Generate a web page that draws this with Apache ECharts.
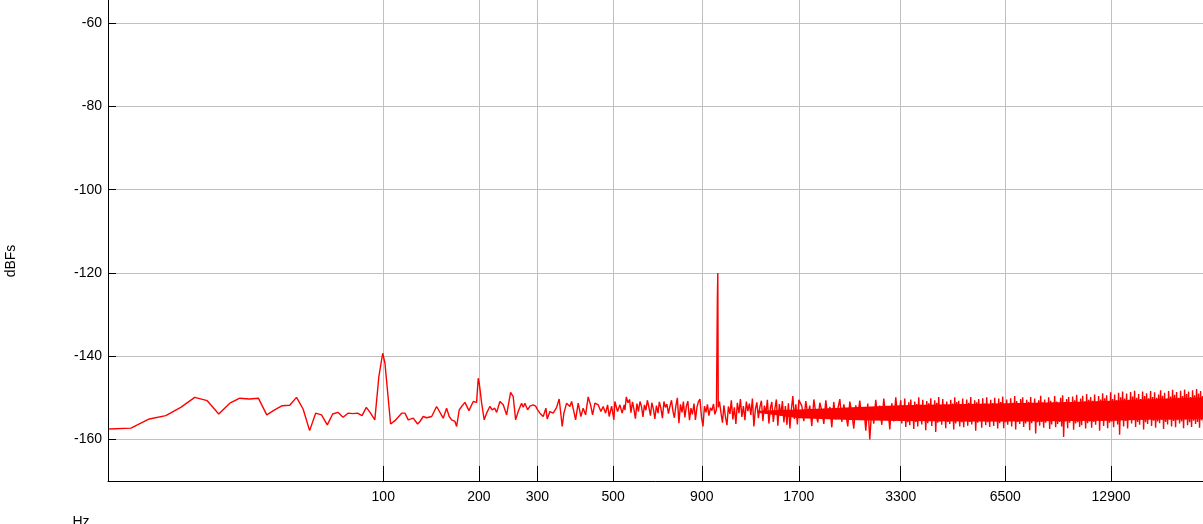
<!DOCTYPE html>
<html><head><meta charset="utf-8">
<script src="https://cdn.jsdelivr.net/npm/echarts@6/dist/echarts.min.js"></script>
<style>html,body{margin:0;padding:0;background:#fff;overflow:hidden}#chart{width:1203px;height:524px}</style>
</head><body><div id="chart"></div>
<script>
// ---- axis ticks ----
const xTickHz = [100, 200, 300, 500, 900, 1700, 3300, 6500, 12900];
const yTickDb = [-160, -140, -120, -100, -80, -60];
const xRangeHz = [2.75, 24000];
const yRangeDb = [-170, -40];

// ---- spectrum: low-frequency part (Hz, dBFS) ----
const lowHz = [2.9,5.9,8.8,11.7,14.6,17.6,20.5,23.4,26.4,29.3,32.2,35.2,38.1,41.0,43.9,46.9,49.8,52.7,55.7,58.6,61.5,64.5,67.4,70.3,73.2,76.2,79.1,82.0,85.0,87.9,90.8,93.8,96.7,99.6,101.3,105.7,109.2,114.8,117.6,120.5,125.0,129.1,131.3,134.5,137.9,143.0,148.2,155.4,159.2,162.2,165.0,169.0,171.0,174.2,177.2,181.4,186.6,192.3,196.9,199.2,200.6,204.0,207.7,211.2,216.1,219.6,223.5,226.5,231.7,237.1,242.7,249.5,254.0,258.3,262.9,269.1,272.2,275.3,280.5,284.9,291.4,296.3,300.3,305.1,312.0,317.8,320.6,326.6,334.0,341.8,347.8,355.0,359.1,365.7,373.9,378.3,385.0,388.6,395.5,402.7,409.0,415.7,423.0,429.9,435.7,442.5,452.4,460.7,467.8,475.4,481.8,487.0,494.9,502.5,505.9,515.1,523.0,531.1,538.3];
const lowDb = [-157.5,-157.3,-155.1,-154.3,-152.3,-149.9,-150.7,-153.9,-151.3,-150.1,-150.3,-150.1,-154.1,-152.9,-151.9,-151.8,-149.9,-152.7,-157.9,-153.7,-154.1,-156.5,-153.9,-153.5,-154.7,-153.7,-153.8,-153.7,-154.3,-152.3,-153.7,-155.3,-145.0,-139.3,-141.7,-156.3,-155.5,-153.7,-153.7,-155.3,-154.9,-156.3,-155.7,-154.5,-154.8,-154.5,-152.1,-154.9,-152.5,-154.5,-155.3,-155.7,-156.9,-152.9,-152.1,-151.1,-153.1,-150.9,-151.1,-145.3,-146.5,-151.3,-155.3,-153.7,-152.1,-152.9,-152.5,-153.5,-150.9,-151.7,-154.1,-148.7,-149.7,-155.3,-153.3,-151.3,-152.3,-151.3,-152.9,-152.0,-151.7,-152.0,-152.9,-153.7,-154.5,-152.5,-155.1,-153.3,-153.7,-152.3,-150.3,-156.9,-153.7,-151.3,-152.1,-150.9,-153.7,-155.3,-151.3,-154.5,-152.5,-154.1,-149.8,-151.7,-154.1,-151.3,-151.7,-153.3,-152.1,-153.7,-151.7,-154.5,-152.0,-155.3,-150.9,-153.3,-151.7,-153.7,-151.7];

// ---- mid part incl. the 1 kHz tone ----
const midHz = [541,546,552,558,563,569,574,580,586,592,598,604,610,616,622,628,635,641,647,654,660,667,674,680,687,694,701,708,715,722,729,737,744,751,759,766,774,782,790,797,805,813,821,830,838,846,855,863,872,880,889,898,907,916,925,934,943,953,962,972,981,991,997,1000,1003,1011,1021,1031,1041,1051,1062,1072,1083,1093,1104,1115,1126,1137,1149,1160,1171,1183,1195,1206,1218,1230,1242,1255,1267,1280,1292,1305,1318,1331,1344,1357,1371,1384,1398,1412,1425,1439,1454,1468,1482,1497,1512,1527,1542,1557,1573,1588,1604,1619,1635,1651,1667,1684,1700];
const midDb = [-153.0,-149.8,-151.2,-150.4,-153.6,-151.0,-152.6,-155.0,-151.4,-153.3,
-150.9,-152.1,-154.6,-151.7,-153.0,-150.6,-152.4,-154.3,-151.2,-152.8,
-155.1,-151.9,-153.7,-151.0,-152.5,-154.9,-150.9,-152.3,-151.5,-153.8,
-152.1,-150.6,-153.2,-154.8,-151.8,-150.0,-156.1,-151.6,-153.5,-150.9,
-154.7,-152.0,-150.8,-155.4,-152.5,-154.0,-151.4,-155.3,-152.2,-151.0,
-150.3,-154.6,-156.9,-152.0,-153.5,-151.6,-154.3,-152.4,-153.1,-151.5,
-154.0,-152.8,
-126.5,-120.0,
-152.3,-150.9,-153.6,-156.0,-151.8,-154.5,-156.6,-152.1,-153.9,-150.6,
-155.2,-152.3,-156.3,-151.2,-153.7,-150.3,-154.6,-152.0,-155.4,-150.9,
-153.2,-151.4,-154.1,-150.2,-156.9,-152.7,-151.1,-154.9,-152.2,-150.7,
-155.6,-151.9,-153.8,-150.5,-156.2,-152.4,-151.0,-155.8,-152.6,-150.4,
-156.7,-151.5,-154.3,-150.8,-155.9,-152.0,-156.5,-151.3,-157.4,-152.8,
-149.6,-155.1,-151.6,-156.4,-150.5];

// ---- high part (dense noise) ----
const highHz = [1734,1756,1779,1803,1826,1850,1875,1899,1924,1949,
1975,2001,2027,2054,2081,2108,2135,2163,2192,2221,
2250,2279,2309,2339,2370,2401,2432,2464,2496,2529,
2562,2596,2630,2664,2699,2734,2770,2806,2843,2880,
2918,2956,2995,3034,3074,3114,3155,3196,3238,3280,
3301,3323,3344,3366,3388,3410,3432,3455,3477,3500,3523,3546,3569,3592,3615,3639,3662,3686,3710,3734,
3758,3783,3808,3833,3858,3883,3908,3933,3959,3985,4011,4037,4063,4089,4116,4143,4170,4197,4224,4252,
4279,4307,4335,4363,4391,4420,4449,4478,4507,4537,4566,4596,4626,4656,4686,4716,4747,4778,4809,4840,
4872,4904,4935,4967,4999,5032,5065,5098,5131,5164,5198,5232,5266,5300,5334,5369,5404,5439,5474,5510,
5546,5582,5618,5655,5692,5729,5766,5803,5841,5879,5917,5956,5994,6033,6072,6112,6152,6192,6232,6272,
6313,6354,6395,6437,6479,6521,6563,6606,6649,6692,6735,6779,6823,6868,6912,6957,7002,7048,7094,7140,
7186,7233,7280,7327,7374,7422,7470,7519,7568,7617,7666,7716,7766,7817,7868,7919,7970,8022,8074,8126,
8179,8232,8286,8340,8394,8448,8503,8558,8614,8670,8726,8783,8840,8897,8955,9013,9071,9130,9189,9249,
9309,9370,9431,9492,9553,9615,9678,9741,9804,9868,9932,9996,10061,10126,10192,10258,10325,10392,10459,10527,
10595,10664,10733,10803,10873,10944,11015,11086,11158,11231,11304,11377,11451,11525,11600,11675,11751,11827,11904,11981,
12059,12137,12216,12295,12375,12455,12536,12618,12700,12782,12865,12948,13032,13117,13202,13288,13374,13461,13548,13636,
13725,13814,13903,13993,14084,14176,14268,14360,14453,14547,14642,14737,14832,14928,15025,15123,15221,15320,15419,15519,
15620,15721,15823,15926,16029,16133,16238,16343,16449,16556,16663,16771,16880,16990,17100,17211,17323,17435,17548,17662,
17777,17892,18008,18124,18242,18360,18479,18599,18720,18841,18963,19086,19210,19335,19460,19586,19713,19841,19970,20099,
20230,20361,20493,20626,20760,20894,21030,21166,21303,21441,21580,21720,21861,22003,22146,22289,22434,22579,22726,22873,
23022,23171,23321,23472,23624,23777,23888,24000];
const highDb = [-152.0,-155.6,-150.8,-154.2,-151.9,-156.8,-150.4,-153.7,-155.9,-151.2,
-153.1,-156.3,-150.6,-154.9,-152.2,-157.1,-151.0,-155.2,-152.7,-150.3,
-155.8,-151.6,-154.0,-156.9,-150.9,-153.6,-157.4,-151.8,-154.5,-150.7,
-155.3,-152.3,-157.9,-151.4,-160.0,-152.6,-156.2,-150.5,-155.0,-151.9,
-156.5,-150.2,-154.4,-152.1,-157.6,-151.3,-155.7,-149.9,-154.8,-152.4,
-150.6,-156.2,-151.9,-155.4,-150.2,-157.0,-152.4,-155.9,-151.1,-156.6,
-150.4,-155.2,-152.0,-157.5,-150.9,-155.8,-151.5,-156.9,-149.9,-155.3,
-151.7,-156.4,-150.5,-155.0,-152.1,-157.8,-150.8,-156.1,-151.3,-155.6,
-150.1,-156.8,-151.8,-155.2,-150.6,-158.2,-151.2,-156.0,-149.8,-155.7,
-152.0,-156.5,-150.3,-155.1,-151.6,-157.3,-150.9,-155.8,-152.2,-156.3,
-150.5,-155.4,-151.4,-157.6,-149.9,-156.2,-151.0,-155.5,-150.7,-156.9,
-151.5,-155.9,-150.2,-157.1,-152.0,-155.3,-150.4,-156.7,-151.2,-155.8,
-149.8,-156.4,-151.7,-155.2,-150.6,-157.9,-151.1,-156.0,-150.3,-155.6,
-151.9,-157.2,-150.1,-155.5,-151.4,-156.6,-149.9,-155.9,-152.1,-157.0,
-150.5,-155.3,-151.3,-156.8,-150.0,-155.7,-151.6,-157.4,-150.2,-156.1,
-151.0,-155.6,-149.7,-157.3,-151.5,-155.9,-150.4,-156.5,-151.9,-155.2,
-150.1,-156.9,-151.2,-155.4,-149.6,-157.6,-150.8,-155.8,-151.4,-156.3,
-150.3,-155.5,-149.9,-157.0,-151.6,-156.2,-150.5,-155.7,-151.0,-157.8,
-149.8,-156.1,-151.3,-155.4,-150.2,-158.6,-151.7,-155.9,-150.6,-156.7,
-149.5,-155.8,-151.1,-157.2,-150.4,-156.0,-151.8,-155.5,-149.9,-157.5,
-150.7,-156.4,-151.2,-155.6,-149.6,-157.1,-150.9,-156.3,-151.5,-155.8,
-150.0,-156.9,-149.4,-159.4,-151.0,-155.7,-150.3,-157.3,-149.8,-156.0,
-151.4,-155.5,-149.7,-157.7,-150.6,-156.2,-149.3,-155.9,-151.1,-157.0,
-150.2,-156.6,-149.5,-155.4,-150.9,-157.4,-149.1,-156.1,-150.5,-155.7,
-149.8,-157.2,-150.7,-155.8,-149.2,-156.5,-151.0,-155.3,-149.6,-157.9,
-150.4,-155.6,-148.9,-156.8,-150.1,-155.2,-149.4,-157.3,-150.8,-156.0,
-148.7,-155.7,-150.3,-157.1,-149.2,-155.5,-150.6,-156.4,-148.8,-158.9,
-149.9,-155.3,-148.5,-156.9,-150.2,-155.6,-149.0,-157.4,-150.5,-155.1,
-148.6,-156.2,-149.7,-155.4,-148.3,-157.0,-150.0,-155.8,-149.1,-156.5,
-150.3,-155.2,-148.5,-157.6,-149.6,-155.9,-148.9,-156.3,-150.1,-155.0,
-148.4,-156.8,-149.8,-155.5,-148.7,-157.2,-150.0,-155.7,-149.2,-156.1,
-148.2,-155.3,-149.5,-157.5,-148.8,-155.8,-150.2,-156.4,-148.4,-155.2,
-149.7,-156.9,-148.1,-155.6,-149.3,-157.1,-148.6,-155.4,-150.0,-156.2,
-148.3,-155.7,-149.6,-157.3,-148.0,-155.2,-149.1,-156.6,-148.5,-155.9,
-149.8,-157.0,-148.2,-155.5,-149.4,-156.3,-147.9,-155.8,-149.0,-157.2,
-148.4,-155.4,-149.6,-156.0,-148.1,-155.6,-149.2,-155.9];

// ---- solid core of the dense noise (lower / upper edge) ----
const bandHz = [1300, 1700, 2500, 3300, 5000, 6500, 10000, 12900, 16000, 20000, 24000];
const bandLo = [-153.6, -154.9, -155.4, -155.6, -155.7, -155.7, -155.6, -155.5, -155.3, -155.2, -155.1];
const bandHi = [-153.1, -152.8, -152.2, -151.8, -151.5, -151.3, -151.0, -150.7, -150.4, -150.1, -149.9];

// frequency axis: logarithmic in (f + offset)
const OFFSET_HZ = 17;
const toX = f => Math.log10(f + OFFSET_HZ);
const FONT = '"Liberation Sans", Arial, Helvetica, sans-serif';

const allHz = lowHz.concat(midHz, highHz);
const allDb = lowDb.concat(midDb, highDb);
const lineData = allHz.map((f, i) => [toX(f), allDb[i]]);
const bandData = bandHz.map((f, i) => [toX(f), bandLo[i], bandHi[i]]);

const chart = echarts.init(document.getElementById('chart'), null, {renderer: 'canvas'});
chart.setOption({
  animation: false,
  backgroundColor: '#fff',
  grid: {left: 108, top: -60, width: 1099, height: 541, containLabel: false, outerBoundsMode: 'none'},
  xAxis: {
    type: 'value', min: toX(xRangeHz[0]), max: toX(xRangeHz[1]),
    axisLine: {show: true, onZero: false, lineStyle: {color: '#000', width: 1}},
    axisTick: {show: true, inside: true, length: 15, customValues: xTickHz.map(toX), lineStyle: {color: '#000'}},
    axisLabel: {show: true, customValues: xTickHz.map(toX), margin: 9, color: '#000', fontSize: 14, fontFamily: FONT,
      formatter: v => String(Math.round(Math.pow(10, v) - OFFSET_HZ))},
    splitLine: {show: true, lineStyle: {color: '#c0c0c0', width: 1}}
  },
  yAxis: {
    type: 'value', min: yRangeDb[0], max: yRangeDb[1],
    axisLine: {show: true, onZero: false, lineStyle: {color: '#000', width: 1}},
    axisTick: {show: true, inside: true, length: 8, customValues: yTickDb, lineStyle: {color: '#000'}},
    axisLabel: {show: true, customValues: yTickDb, margin: 6, color: '#000', fontSize: 14, fontFamily: FONT},
    splitLine: {show: true, lineStyle: {color: '#c0c0c0', width: 1}}
  },
  series: [
    {type: 'custom', coordinateSystem: 'cartesian2d', data: bandData, encode: {x: 0, y: [1, 2]}, silent: true, z: 2,
      renderItem: function (params, api) {
        if (params.dataIndex !== 0) return null;
        const pts = [];
        for (let i = 0; i < bandData.length; i++) pts.push(api.coord([bandData[i][0], bandData[i][2]]));
        for (let i = bandData.length - 1; i >= 0; i--) pts.push(api.coord([bandData[i][0], bandData[i][1]]));
        return {type: 'polygon', shape: {points: pts}, style: {fill: '#ff0000'}};
      }},
    {type: 'line', data: lineData, symbol: 'none', showSymbol: false, sampling: null,
      lineStyle: {color: '#ff0000', width: 1.4}, silent: true, z: 3}
  ],
  graphic: [
    {type: 'text', x: 11, y: 261, rotation: Math.PI / 2, silent: true,
      style: {text: 'dBFs', font: '14px ' + FONT, fill: '#000', align: 'center', verticalAlign: 'middle'}},
    {type: 'text', x: 81, y: 515, silent: true,
      style: {text: 'Hz', font: '14px ' + FONT, fill: '#000', align: 'center', verticalAlign: 'top'}}
  ]
});
</script>
</body></html>
